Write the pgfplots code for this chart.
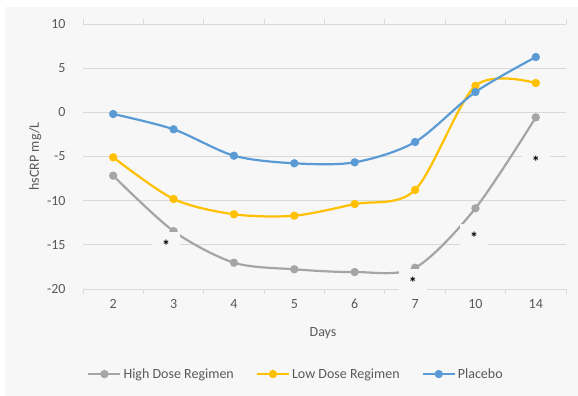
\documentclass[border=0pt]{standalone}
\usepackage{pgfplots}
\pgfplotsset{compat=1.18}
\usepackage{fontspec}
\setmainfont{Carlito}
\definecolor{bgc}{HTML}{F7F7F7}
\definecolor{gridc}{HTML}{D9D9D9}
\definecolor{txtc}{HTML}{595959}
\definecolor{cgrey}{HTML}{A5A5A5}
\definecolor{cgold}{HTML}{FFC000}
\definecolor{cblue}{HTML}{5B9BD5}
\newcommand{\fs}{\fontsize{14bp}{16bp}\selectfont}
\begin{document}
\begin{tikzpicture}
\fill[white] (0,0) rectangle (578bp,396bp);
\fill[bgc] (5bp,0) rectangle (578bp,389bp);
\begin{axis}[
  at={(83bp,107bp)}, anchor=south west,
  scale only axis, width=483bp, height=265bp,
  xmin=-0.5, xmax=7.5, ymin=-20, ymax=10,
  clip=false,
  axis line style={draw=none},
  ymajorgrids, grid style={gridc, line width=0.8bp},
  xtick={0,...,7},
  xticklabels={2,3,4,5,6,7,10,14},
  minor xtick={-0.5,0.5,...,7.5},
  ytick={-20,-15,...,10},
  yticklabels={-20,-15,-10,-5,0,5,10},
  major tick length=0pt, minor tick length=5bp,
  tick align=outside,
  minor tick style={gridc, line width=0.8bp},
  tick label style={font=\fs, text=txtc},
  yticklabel style={xshift=-14bp},
  xticklabel style={yshift=-7bp},
  xlabel={Days}, ylabel={hsCRP mg/L},
  label style={font=\fs, text=txtc},
  xlabel style={at={(axis description cs:0.497,-0.168)}, anchor=center},
  ylabel style={at={(axis description cs:-0.099,0.5)}, anchor=center},
  legend columns=3,
  legend style={at={(axis description cs:0.441,-0.321)}, anchor=center, draw=none, fill=none,
    font=\fs, text=txtc, /tikz/every even column/.append style={column sep=20bp},
    nodes={inner sep=2bp}},
  legend image code/.code={\draw[mark repeat=2,mark phase=2] plot coordinates {(0bp,0bp) (16bp,0bp) (32bp,0bp)};},
  every axis plot/.append style={line width=2.2bp, smooth, mark=*, mark size=3bp},
]
\addplot[cgrey, mark options={fill=cgrey}] coordinates {(0,-7.17) (1,-13.45) (2,-17.02) (3,-17.77) (4,-18.08) (5,-17.6) (6,-10.86) (7,-0.57)};
\addlegendentry{High Dose Regimen}
\addplot[cgold, mark options={fill=cgold}] coordinates {(0,-5.09) (1,-9.81) (2,-11.54) (3,-11.70) (4,-10.38) (5,-8.79) (6,3.0) (7,3.32)};
\addlegendentry{Low Dose Regimen}
\addplot[cblue, mark options={fill=cblue}] coordinates {(0,-0.19) (1,-1.92) (2,-4.91) (3,-5.77) (4,-5.66) (5,-3.36) (6,2.3) (7,6.26)};
\addlegendentry{Placebo}
\addplot[forget plot, draw=none, mark=none,
  nodes near coords={\bfseries *}, nodes near coords align={anchor=center},
  every node near coord/.append style={fill=bgc, text=black, minimum width=28bp, minimum height=28bp, inner sep=0pt, font=\fontsize{16bp}{18bp}\selectfont, anchor=center}]
  coordinates {(0.878,-15.1) (4.964,-19.29) (5.98,-14.19) (7.0,-5.62)};
\end{axis}
\end{tikzpicture}
\end{document}
